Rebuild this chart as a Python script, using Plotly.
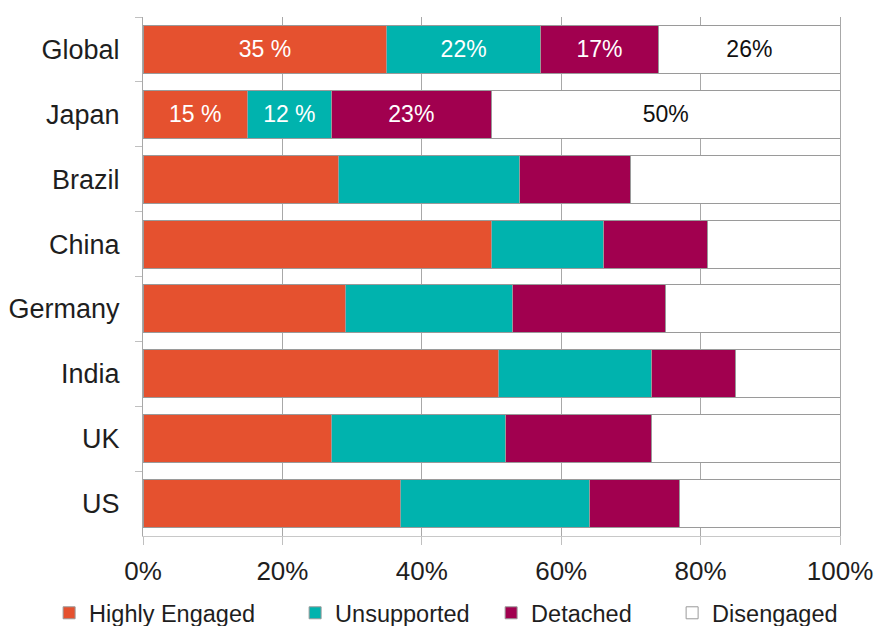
import plotly.graph_objects as go

# Share of employees in each engagement segment, by country (percent)
countries = ["Global", "Japan", "Brazil", "China", "Germany", "India", "UK", "US"]
highly_engaged = [35, 15, 28, 50, 29, 51, 27, 37]
unsupported = [22, 12, 26, 16, 24, 22, 25, 27]
detached = [17, 23, 16, 15, 22, 12, 21, 13]
disengaged = [26, 50, 30, 19, 25, 15, 27, 23]

# Value labels printed on the first two rows only
highly_engaged_labels = ["35 %", "15 %", "", "", "", "", "", ""]
unsupported_labels = ["22%", "12 %", "", "", "", "", "", ""]
detached_labels = ["17%", "23%", "", "", "", "", "", ""]
disengaged_labels = ["26%", "50%", "", "", "", "", "", ""]

x_ticks = [0, 20, 40, 60, 80, 100]
x_tick_labels = ["0%", "20%", "40%", "60%", "80%", "100%"]

# name, values, labels, fill, label colour, legend entry width (px)
segments = [
    ("Highly Engaged", highly_engaged, highly_engaged_labels, "#E5512F", "white", 201),
    ("Unsupported", unsupported, unsupported_labels, "#00B3AE", "white", 151),
    ("Detached", detached, detached_labels, "#A1004F", "white", 136),
    ("Disengaged", disengaged, disengaged_labels, "#FFFFFF", "#111111", 130),
]

base_font = "Liberation Sans, Arial, sans-serif"

fig = go.Figure()
for name, values, labels, color, text_color, entry_w in segments:
    fig.add_trace(go.Bar(
        name=name,
        y=countries,
        x=values,
        orientation="h",
        marker=dict(color=color, line=dict(color="#9a9a9a", width=1)),
        text=labels,
        textposition="inside",
        insidetextanchor="middle",
        textangle=0,
        textfont=dict(family=base_font, size=23, color=text_color),
        legendwidth=entry_w,
        hoverinfo="x+y+name",
    ))

fig.update_layout(
    barmode="stack",
    bargap=0.26,
    width=879,
    height=626,
    margin=dict(l=143, r=39, t=17, b=90, autoexpand=False),
    paper_bgcolor="white",
    plot_bgcolor="white",
    font=dict(family=base_font, color="#1e1e1e", size=26),
    uniformtext=dict(minsize=8, mode="show"),
    showlegend=True,
    legend=dict(
        orientation="h",
        x=-0.1347,
        xanchor="left",
        y=-0.106,
        yanchor="top",
        font=dict(family=base_font, size=23.5, color="#1e1e1e"),
        traceorder="normal",
        itemclick=False,
        itemdoubleclick=False,
    ),
    xaxis=dict(
        range=[0, 100],
        tickvals=x_ticks,
        ticktext=x_tick_labels,
        showgrid=True,
        gridcolor="#a8a8a8",
        gridwidth=1,
        showline=True,
        linecolor="#c8c8c8",
        linewidth=1,
        ticks="outside",
        ticklen=8,
        tickcolor="#c0c0c0",
        ticklabelstandoff=4,
        tickfont=dict(size=26),
        zeroline=False,
        fixedrange=True,
    ),
    yaxis=dict(
        autorange="reversed",
        showline=True,
        linecolor="#a8a8a8",
        linewidth=1,
        mirror=True,
        ticks="outside",
        tickson="boundaries",
        ticklen=7,
        tickcolor="#c0c0c0",
        ticklabelstandoff=17,
        tickfont=dict(size=27),
        showgrid=False,
        fixedrange=True,
    ),
)

fig.write_html("out.html")
